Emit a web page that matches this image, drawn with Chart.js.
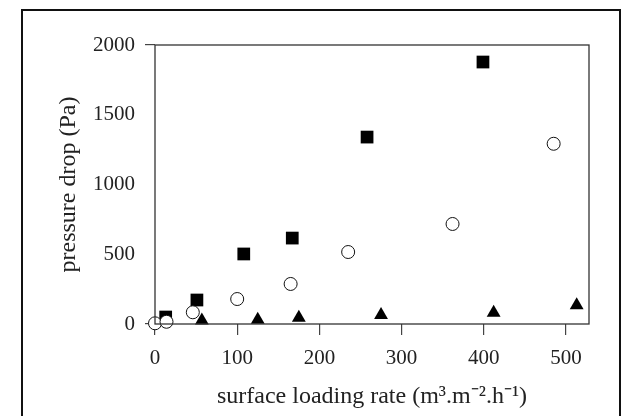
<!DOCTYPE html>
<html>
<head>
<meta charset="utf-8">
<script src="https://cdn.jsdelivr.net/npm/chart.js@4.4.0/dist/chart.umd.min.js"></script>
<style>
  html, body { margin: 0; padding: 0; background: #fff; }
  #wrap { width: 622px; height: 416px; position: relative; }
</style>
</head>
<body>
<div id="wrap"><canvas id="pdChart"></canvas></div>
<script>
// data
var squareX = [13, 51, 108, 167, 258, 399];
var squareY = [50, 172, 502, 616, 1340, 1878];
var circleX = [0, 14, 46, 100, 165, 235, 362, 485];
var circleY = [5, 16, 84, 179, 287, 516, 717, 1292];
var triangleX = [57, 125, 175, 275, 412, 513];
var triangleY = [25, 30, 45, 65, 80, 135];

var xTicks = [0, 100, 200, 300, 400, 500];
var yTicks = [0, 500, 1000, 1500, 2000];

function toPoints(xs, ys) {
  return xs.map(function (x, i) { return { x: x, y: ys[i] }; });
}

// frame around page and plot box
var framePlugin = {
  id: 'frame',
  beforeDraw: function (chart) {
    var c = chart.ctx;
    c.save();
    c.strokeStyle = '#111';
    c.lineWidth = 2;
    c.strokeRect(22, 10, 598, 420);
    c.restore();
  },
  afterDatasetsDraw: function (chart) {
    var a = chart.chartArea;
    var c = chart.ctx;
    c.save();
    c.strokeStyle = '#333';
    c.lineWidth = 1.3;
    c.strokeRect(a.left, a.top, a.right - a.left, a.bottom - a.top);
    c.restore();
  }
};

var ctx = document.getElementById('pdChart').getContext('2d');
var chart = new Chart(ctx, {
  type: 'scatter',
  data: {
    datasets: [
      {
        label: 'squares',
        data: toPoints(squareX, squareY),
        pointStyle: 'rect',
        pointRadius: 9,
        backgroundColor: '#000',
        borderColor: '#000',
        borderWidth: 0,
        order: 3,
        clip: false,
      },
      {
        label: 'circles',
        data: toPoints(circleX, circleY),
        pointStyle: 'circle',
        pointRadius: 6.5,
        backgroundColor: '#fff',
        borderColor: '#111',
        borderWidth: 1,
        order: 2,
        clip: false,
      },
      {
        label: 'triangles',
        data: toPoints(triangleX, triangleY),
        pointStyle: 'triangle',
        pointRadius: 8,
        backgroundColor: '#000',
        borderColor: '#000',
        borderWidth: 0,
        order: 1,
        clip: false,
      },
    ],
  },
  options: {
    responsive: true,
    maintainAspectRatio: false,
    animation: false,
    layout: { padding: { left: 0, top: 45, right: 33, bottom: 0 } },
    plugins: {
      legend: { display: false },
      tooltip: { enabled: false },
    },
    scales: {
      x: {
        type: 'linear',
        min: 0,
        max: 528,
        afterFit: function (s) { s.height = 92; },
        afterBuildTicks: function (s) {
          s.ticks = xTicks.map(function (v) { return { value: v }; });
        },
        border: { display: false },
        grid: {
          drawOnChartArea: false,
          tickLength: 11,
          color: '#444',
          lineWidth: 1.2,
        },
        ticks: {
          padding: 11,
          color: '#222',
          font: { family: 'Liberation Serif', size: 21 },
          callback: function (v) { return String(v); },
        },
        title: {
          display: true,
          text: 'surface loading rate (m³.m⁻².h⁻¹)',
          color: '#222',
          font: { family: 'Liberation Serif', size: 24 },
          padding: { top: 0, bottom: 5 },
        },
      },
      y: {
        type: 'linear',
        min: 0,
        max: 2000,
        afterFit: function (s) { s.width = 155; },
        afterBuildTicks: function (s) {
          s.ticks = yTicks.map(function (v) { return { value: v }; });
        },
        border: { display: false },
        grid: {
          drawOnChartArea: false,
          tickLength: 10,
          color: function (c) {
            return c.tick && (c.tick.value === 0 || c.tick.value === 2000) ? '#444' : 'rgba(0,0,0,0)';
          },
          lineWidth: 1.2,
        },
        ticks: {
          padding: 10,
          color: '#222',
          font: { family: 'Liberation Serif', size: 21 },
          callback: function (v) { return String(v); },
        },
        title: {
          display: true,
          text: 'pressure drop (Pa)',
          color: '#222',
          font: { family: 'Liberation Serif', size: 24 },
          padding: { top: 54, bottom: 0 },
        },
      },
    },
  },
  plugins: [framePlugin],
});
</script>
</body>
</html>
